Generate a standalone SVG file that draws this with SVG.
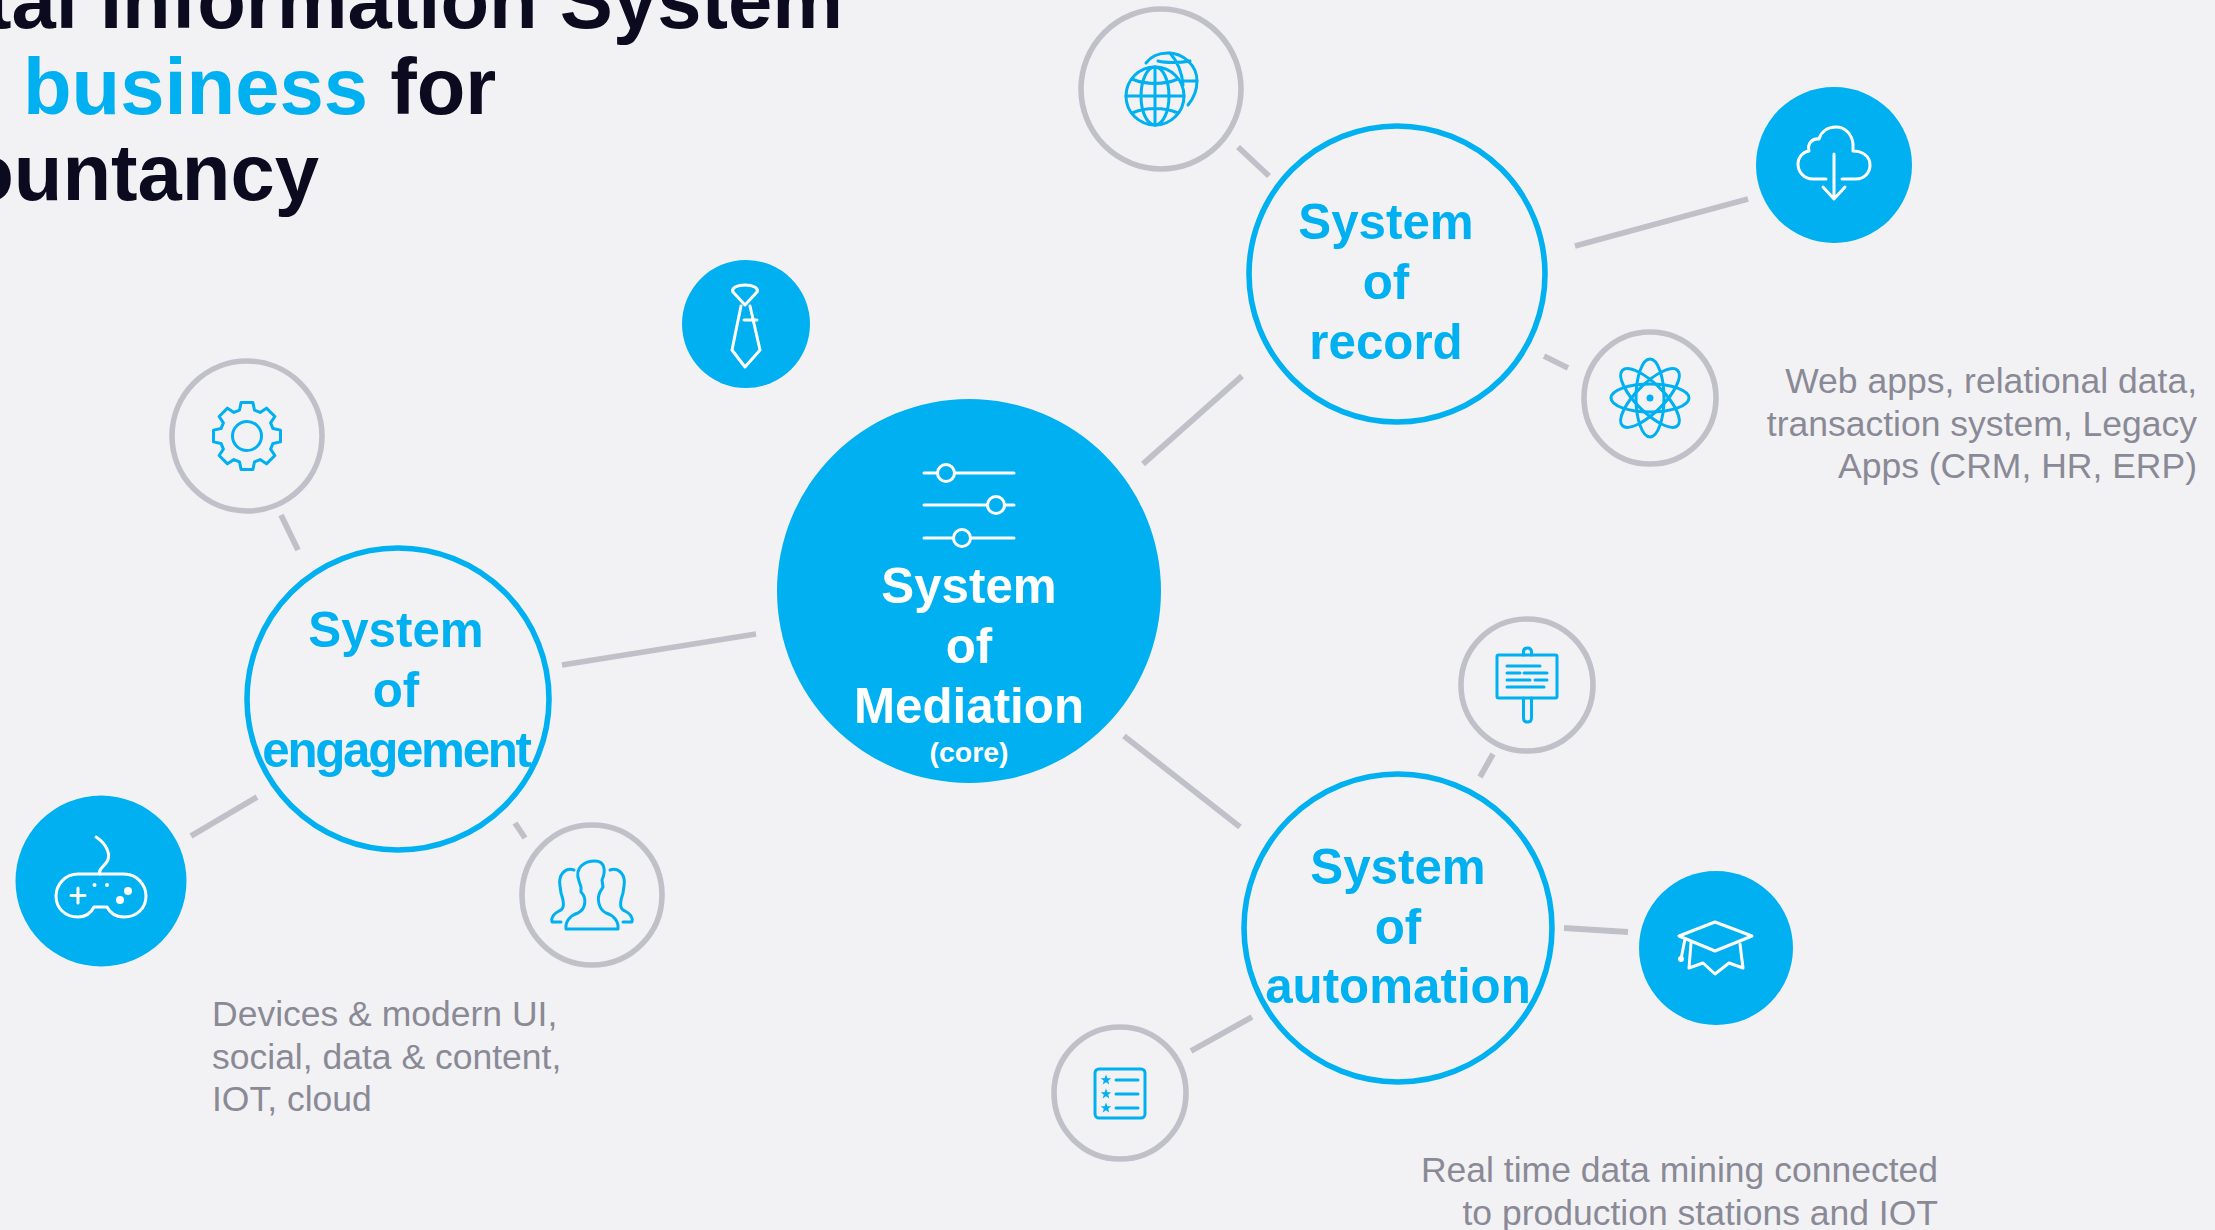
<svg xmlns="http://www.w3.org/2000/svg" width="2215" height="1230" viewBox="0 0 2215 1230">
<style>
text{font-family:"Liberation Sans",Arial,sans-serif}
.title{font-size:79.6px;font-weight:700;fill:#0b0a1f}
.hl{fill:#00b0f0}
.lab{font-size:49.3px;font-weight:700;fill:#00b0f0;text-anchor:middle}
.wlab{fill:#fff}
.note{font-size:35.5px;fill:#8a8a96}
.end{text-anchor:end}
.ring{fill:#f2f2f5;stroke:#c0c0c8;stroke-width:5.6}
.main{fill:#f2f2f5;stroke:#00b0f0;stroke-width:5.6}
.solid{fill:#00b0f0}
.ib{fill:none;stroke:#00b0f0;stroke-width:3;stroke-linecap:round;stroke-linejoin:round}
.iw{fill:none;stroke:#fff;stroke-width:3;stroke-linecap:round;stroke-linejoin:round}
.conn line{stroke:#c0c0c8;stroke-width:5.8}
</style>
<defs>
<polygon id="star" points="0,-5.5 1.4,-1.8 5.3,-1.7 2.2,.7 3.3,4.5 0,2.3 -3.3,4.5 -2.2,.7 -5.3,-1.7 -1.4,-1.8" fill="#00b0f0"/>
</defs>
<rect width="2215" height="1230" fill="#f2f2f5"/>

<g id="title">
<text class="title end" x="843" y="28">tal Information System</text>
<text class="title" x="23" y="114"><tspan class="hl">business</tspan> for</text>
<text class="title end" x="319" y="200">ountancy</text>
</g>

<g transform="translate(0,1)">
<g id="connectors" class="conn">
<line x1="1143" y1="463" x2="1242" y2="375"/>
<line x1="1575" y1="245" x2="1748" y2="198"/>
<line x1="1238" y1="146" x2="1269" y2="175"/>
<line x1="1544" y1="355" x2="1568" y2="367"/>
<line x1="562" y1="664" x2="756" y2="633"/>
<line x1="281" y1="514" x2="298" y2="549"/>
<line x1="191" y1="835" x2="257" y2="796"/>
<line x1="515" y1="822" x2="525" y2="837"/>
<line x1="1124" y1="735" x2="1240" y2="826"/>
<line x1="1493" y1="753" x2="1480" y2="776"/>
<line x1="1564" y1="927" x2="1628" y2="931"/>
<line x1="1191" y1="1050" x2="1252" y2="1016"/>
</g>

<g id="core">
<circle class="solid" cx="969" cy="590" r="192"/>
<g class="iw">
<path d="M924,472H1014M924,504H1014M924,537H1014"/>
<circle cx="946" cy="472" r="8.5" fill="#00b0f0"/>
<circle cx="996" cy="504" r="8.5" fill="#00b0f0"/>
<circle cx="962" cy="537" r="8.5" fill="#00b0f0"/>
</g>
<text class="lab wlab" x="969" y="602">System</text>
<text class="lab wlab" x="969" y="662">of</text>
<text class="lab wlab" x="969" y="722">Mediation</text>
<text class="wlab" x="969" y="761" text-anchor="middle" font-size="28.5" font-weight="700">(core)</text>
</g>

<g id="record">
<circle class="main" cx="1397" cy="273" r="148"/>
<text class="lab" x="1386" y="238">System</text>
<text class="lab" x="1386" y="298">of</text>
<text class="lab" x="1386" y="358">record</text>
</g>

<g id="engagement">
<circle class="main" cx="398" cy="698" r="151"/>
<text class="lab" x="396" y="646">System</text>
<text class="lab" x="396" y="706">of</text>
<text class="lab" x="396" y="766" letter-spacing="-2.3">engagement</text>
</g>

<g id="automation">
<circle class="main" cx="1398" cy="927" r="154"/>
<text class="lab" x="1398" y="883">System</text>
<text class="lab" x="1398" y="943">of</text>
<text class="lab" x="1398" y="1002">automation</text>
</g>

<g id="globe">
<circle class="ring" cx="1161" cy="88" r="80"/>
<g class="ib">
<circle cx="1155" cy="95" r="29"/>
<ellipse cx="1155" cy="95" rx="14" ry="29"/>
<path d="M1155,66V124M1126,95H1184M1132,78C1146,84 1164,84 1178,78M1132,112C1146,106 1164,106 1178,112"/>
<path d="M1146,62C1152,54 1161,52 1168,52C1183,52 1197,64 1197,80C1197,90 1193,98 1188,104"/>
<path d="M1170,52C1177,60 1182,70 1183,84M1158,60C1166,62 1180,62 1190,60M1184,80H1197"/>
</g>
</g>

<g id="cloud">
<circle class="solid" cx="1834" cy="164" r="78"/>
<g class="iw">
<path d="M1826,178H1813C1804,178 1798,171 1798,163C1798,156 1803,151 1809,150C1807,143 1812,137 1819,138C1821,131 1827,126 1836,126C1845,126 1852,133 1853,143C1853,146 1853,148 1853,150C1862,150 1870,155 1870,164C1870,172 1864,178 1856,178H1842"/>
<path d="M1834,153V197M1823,186L1834,198L1845,186"/>
</g>
</g>

<g id="atom">
<circle class="ring" cx="1650" cy="397" r="66"/>
<g class="ib" transform="translate(1650,397)">
<ellipse rx="39" ry="14"/>
<ellipse rx="39" ry="14" transform="rotate(45)"/>
<ellipse rx="39" ry="14" transform="rotate(90)"/>
<ellipse rx="39" ry="14" transform="rotate(135)"/>
<circle r="3.5" fill="#00b0f0" stroke="none"/>
</g>
</g>

<g id="gear">
<circle class="ring" cx="247" cy="435" r="75"/>
<g class="ib" transform="translate(247,435)">
<polygon points="-7.44,-25.95 -5.9,-33.48 5.9,-33.48 7.44,-25.95 13.09,-23.61 19.5,-27.85 27.85,-19.5 23.61,-13.09 25.95,-7.44 33.48,-5.9 33.48,5.9 25.95,7.44 23.61,13.09 27.85,19.5 19.5,27.85 13.09,23.61 7.44,25.95 5.9,33.48 -5.9,33.48 -7.44,25.95 -13.09,23.61 -19.5,27.85 -27.85,19.5 -23.61,13.09 -25.95,7.44 -33.48,5.9 -33.48,-5.9 -25.95,-7.44 -23.61,-13.09 -27.85,-19.5 -19.5,-27.85 -13.09,-23.61"/>
<circle r="14.5"/>
</g>
</g>

<g id="tie">
<circle class="solid" cx="746" cy="323" r="64"/>
<g class="iw">
<path d="M745,304L733,291C731,287 737,284 745,284C753,284 759,287 757,291Z"/>
<path d="M741,305L732,349L745,366L760,349L750,305"/>
<path d="M744,319H757"/>
</g>
</g>

<g id="gamepad">
<circle class="solid" cx="101" cy="880" r="85.5"/>
<g class="iw">
<path d="M78,873H124C137,873 146,884 146,895C146,907 137,916 124,916C116,916 110,912 107,906H94C91,912 85,916 78,916C65,916 56,907 56,895C56,884 65,873 78,873Z"/>
<path d="M96,836C107,843 112,855 106,862C102,867 98,869 100,873"/>
<path d="M78,887V902M71,894.5H85"/>
</g>
<g fill="#fff">
<circle cx="94.5" cy="884" r="2"/>
<circle cx="107" cy="884" r="2"/>
<circle cx="128" cy="890" r="4"/>
<circle cx="120" cy="899" r="4"/>
</g>
</g>

<g id="people">
<circle class="ring" cx="592" cy="894" r="70"/>
<g class="ib">
<path d="M566,928H618C619,920 613,914 606,912C598,908 597,897 600,891L603,886L602,879C606,870 605,860 595,860C585,860 574,866 579,880L581,886L581,891C587,897 586,908 578,912C571,914 565,920 566,928Z"/>
<path d="M574,869C565,866 558,874 560,885L561,892C563,898 566,908 559,910C553,913 551,917 552,921H561"/>
<path d="M610,869C619,866 626,874 624,885L623,892C621,898 618,908 625,910C631,913 633,917 632,921H623"/>
</g>
</g>

<g id="board">
<circle class="ring" cx="1527" cy="684" r="66"/>
<g class="ib">
<rect x="1497" y="654" width="60" height="43" rx="1.5"/>
<path d="M1523.500,654V651Q1523.500,647 1527.500,647Q1531.500,647 1531.500,651V654"/>
<path d="M1523.500,697V717Q1523.500,721 1527.500,721Q1531.500,721 1531.500,717V697"/>
<path d="M1507,665H1540M1507,672H1520M1524,672H1547M1507,679H1530M1535,679H1547M1507,686H1544"/>
</g>
</g>

<g id="grad">
<circle class="solid" cx="1716" cy="947" r="77"/>
<g class="iw">
<path d="M1715,921L1679,935L1715,950L1752,935Z"/>
<path d="M1691,942L1689,967L1703,962L1715,973L1729,962L1743,967L1740,943"/>
<path d="M1685,938L1681,958"/>
<circle cx="1681" cy="958" r="1.500" fill="#fff"/>
</g>
</g>

<g id="list">
<circle class="ring" cx="1120" cy="1092" r="66"/>
<g class="ib">
<rect x="1095" y="1068" width="50" height="49" rx="4"/>
<path d="M1116,1079H1138M1116,1093H1138M1116,1107H1138"/>
</g>
<use href="#star" x="1106" y="1079"/>
<use href="#star" x="1106" y="1093"/>
<use href="#star" x="1106" y="1107"/>
</g>
</g>

<g id="notes">
<text class="note end" x="2197" y="393">Web apps, relational data,</text>
<text class="note end" x="2197" y="436">transaction system, Legacy</text>
<text class="note end" x="2197" y="478">Apps (CRM, HR, ERP)</text>
<text class="note" x="212" y="1026">Devices &amp; modern UI,</text>
<text class="note" x="212" y="1069">social, data &amp; content,</text>
<text class="note" x="212" y="1111">IOT, cloud</text>
<text class="note end" x="1938" y="1182">Real time data mining connected</text>
<text class="note end" x="1938" y="1225">to production stations and IOT</text>
</g>
</svg>
